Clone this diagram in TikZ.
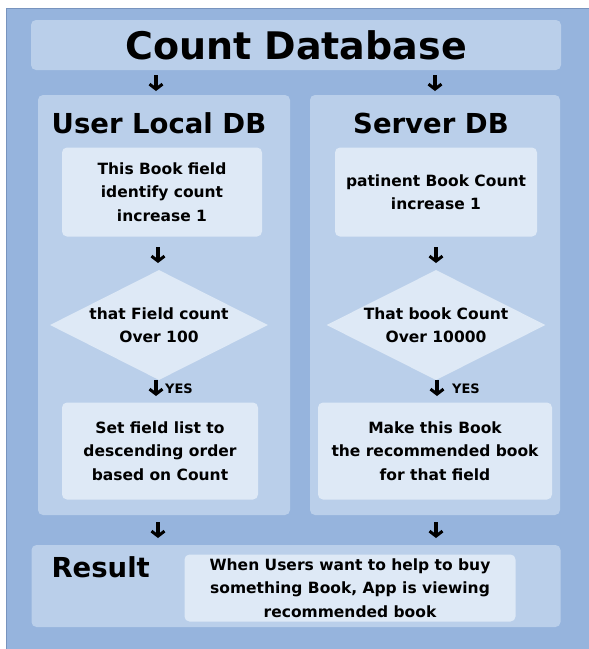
\documentclass[tikz,border=0pt]{standalone}
\usepackage{fontspec}
\setmainfont{DejaVu Sans}
\usetikzlibrary{shapes.geometric,arrows.meta}
\definecolor{outerbg}{RGB}{150,180,221}
\definecolor{outerln}{RGB}{120,148,190}
\definecolor{panelbg}{RGB}{186,207,234}
\definecolor{innerbg}{RGB}{222,233,246}
\begin{document}
\begin{tikzpicture}[x=1pt,y=-1pt,
  panel/.style={fill=panelbg, rounded corners=5pt, draw=none, inner sep=0pt},
  inner/.style={fill=innerbg, rounded corners=5pt, draw=none, inner sep=0pt},
  dia/.style={diamond, fill=innerbg, draw=none, inner sep=0pt},
  txt/.style={font=\fontsize{15.5}{23.5}\bfseries, align=center, text=black},
  head/.style={font=\fontsize{27.5}{30}\bfseries, text=black},
  darr/.style={line width=3.2pt, black, -{Straight Barb[length=5pt, width=13pt, line width=3pt]}},
  yes/.style={font=\fontsize{13}{15}\bfseries, text=black, inner sep=0pt}]
\useasboundingbox (0,0) rectangle (589,649);
\fill[white] (0,0) rectangle (589,649);
\fill[outerbg] (6,8) rectangle (589,649);
\draw[outerln, line width=0.8pt] (6,649) -- (6,8) -- (589,8);
% title
\node[panel, minimum width=530, minimum height=50] (title) at (296,45) {};
\node[font=\fontsize{38}{42}\bfseries] (titletxt) at (title) {Count Database};
\coordinate (a1s) at (156,75); \coordinate (a1e) at (156,91);
\coordinate (a2s) at (435,75); \coordinate (a2e) at (435,91);
\draw[darr] (a1s) -- (a1e);
\draw[darr] (a2s) -- (a2e);
% panels
\node[panel, minimum width=252, minimum height=420] (lp) at (164,305) {};
\node[panel, minimum width=250, minimum height=420] (rp) at (435,305) {};
\node[head] (lh) at (159,123) {User Local DB};
\node[head] (rh) at (431,123) {Server DB};
% left column
\node[inner, minimum width=200, minimum height=89] (lb1) at (162,192) {};
\node[txt] (lb1t) at (lb1) {This Book field\\identify count\\increase 1};
\coordinate (a3s) at (158,247); \coordinate (a3e) at (158,263);
\draw[darr] (a3s) -- (a3e);
\node[dia, minimum width=218, minimum height=110] (ld) at (159,325) {};
\node[txt] (ldt) at (ld) {that Field count\\Over 100};
\coordinate (a4s) at (156,380); \coordinate (a4e) at (156,396);
\draw[darr] (a4s) -- (a4e);
\node[yes, anchor=west] (y1) at (165,389) {YES};
\node[inner, minimum width=196, minimum height=97] (lb3) at (160,451) {};
\node[txt] (lb3t) at (lb3) {Set field list to\\descending order\\based on Count};
% right column
\node[inner, minimum width=202, minimum height=89] (rb1) at (436,192) {};
\node[txt] (rb1t) at (rb1) {patinent Book Count\\increase 1};
\coordinate (a5s) at (436,247); \coordinate (a5e) at (436,263);
\draw[darr] (a5s) -- (a5e);
\node[dia, minimum width=219, minimum height=110] (rd) at (436,325) {};
\node[txt] (rdt) at (rd) {That book Count\\Over 10000};
\coordinate (a6s) at (437,380); \coordinate (a6e) at (437,396);
\draw[darr] (a6s) -- (a6e);
\node[yes, anchor=west] (y2) at (452,389) {YES};
\node[inner, minimum width=234, minimum height=97] (rb3) at (435,451) {};
\node[txt] (rb3t) at (rb3) {Make this Book\\the recommended book\\for that field};
% result
\coordinate (a7s) at (158,522); \coordinate (a7e) at (158,538);
\coordinate (a8s) at (436,522); \coordinate (a8e) at (436,538);
\draw[darr] (a7s) -- (a7e);
\draw[darr] (a8s) -- (a8e);
\node[panel, minimum width=529, minimum height=82] (res) at (296,586) {};
\node[head, anchor=west] (resh) at (48,567) {Result};
\node[inner, minimum width=331, minimum height=67] (resb) at (350,588) {};
\node[txt] (resbt) at (resb) {When Users want to help to buy\\something Book, App is viewing\\recommended book};
\end{tikzpicture}
\end{document}
